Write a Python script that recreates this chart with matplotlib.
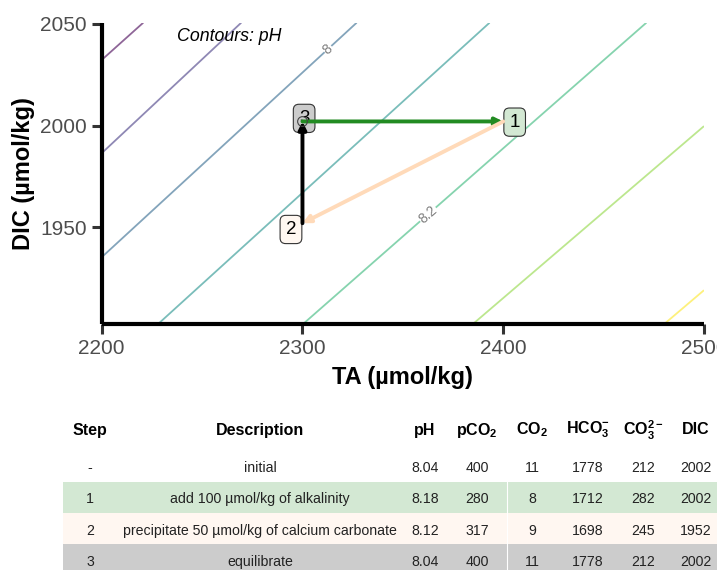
import numpy as np
import matplotlib
matplotlib.use("Agg")
import matplotlib.pyplot as plt
from matplotlib.patches import Rectangle
from matplotlib.lines import Line2D

plt.rcParams['font.family'] = ['Liberation Sans', 'DejaVu Sans']
plt.rcParams['mathtext.default'] = 'regular'

# pH contours: two (TA, DIC) points per level
ph_levels = [7.8, 7.9, 8.0, 8.1, 8.2, 8.3, 8.4]
contour_ta0 = [2200.0, 2200.0, 2200.0, 2228.1, 2300.3, 2384.9, 2480.2]
contour_dic0 = [2032.2, 1986.4, 1935.3, 1902.5, 1902.5, 1902.5, 1902.5]
contour_ta1 = [2220.7, 2269.5, 2327.0, 2393.2, 2471.3, 2500.0, 2500.0]
contour_dic1 = [2050.5, 2050.5, 2050.5, 2050.5, 2050.5, 1999.7, 1919.1]
contour_label_levels = [8.0, 8.2]
contour_label_text = ["8", "8.2"]
contour_label_ta = [2312.7, 2362.5]

# steps
steps = ["-", "1", "2", "3"]
step_ta = [2300, 2400, 2300, 2300]
step_dic = [2002, 2002, 1952, 2002]
descriptions = ["initial", "add 100 \u00b5mol/kg of alkalinity",
                "precipitate 50 \u00b5mol/kg of calcium carbonate", "equilibrate"]
ph = ["8.04", "8.18", "8.12", "8.04"]
pco2 = [400, 280, 317, 400]
co2 = [11, 8, 9, 11]
hco3 = [1778, 1712, 1698, 1778]
co3 = [212, 282, 245, 212]
dic = [2002, 2002, 1952, 2002]

step_colors = [None, "forestgreen", "peachpuff", "black"]
fills = [None, "#d3e8d3", "#fff7f1", "#cccccc"]

W, H = 717, 570
fig = plt.figure(figsize=(W / 100, H / 100), dpi=100)
ax = fig.add_axes([101.7 / W, 1 - 324 / H, (704 - 101.7) / W, (324 - 22.7) / H])

cmap = matplotlib.colormaps['viridis']
for i, lev in enumerate(ph_levels):
    c = cmap(i / (len(ph_levels) - 1))
    ax.plot([contour_ta0[i], contour_ta1[i]], [contour_dic0[i], contour_dic1[i]],
            color=c, alpha=0.6, lw=1.3, zorder=1, solid_capstyle='butt')

for lev, txt, ta in zip(contour_label_levels, contour_label_text, contour_label_ta):
    i = ph_levels.index(lev)
    slope = (contour_dic1[i] - contour_dic0[i]) / (contour_ta1[i] - contour_ta0[i])
    d = contour_dic0[i] + slope * (ta - contour_ta0[i])
    ang = np.degrees(np.arctan(slope))
    ax.text(ta, d, txt, rotation=ang, transform_rotates_text=True, rotation_mode='anchor',
            ha='center', va='center', fontsize=10, color='#808080', zorder=2,
            bbox=dict(boxstyle='square,pad=0.05', fc='white', ec='none'))

ax.text(2237.4, 2043.6, "Contours: pH", style='italic', fontsize=12.8, va='center', ha='left')

# step labels
label_offsets = {1: (4.5, -0.5, 'left'), 2: (-4.5, -4.5, 'right'), 3: (1.2, 2.2, 'center')}
for k in [1, 2, 3]:
    dx, dy, ha = label_offsets[k]
    ax.annotate(steps[k], xy=(step_ta[k], step_dic[k]), xytext=(dx, dy), textcoords='offset points',
                ha=ha, va='center', fontsize=13.5, zorder=3,
                bbox=dict(boxstyle='round,pad=0.3,rounding_size=0.3', fc=fills[k], ec='#333333', lw=0.8))

# arrows between steps
for k in [1, 2, 3]:
    ax.annotate('', xy=(step_ta[k], step_dic[k]), xytext=(step_ta[k - 1], step_dic[k - 1]),
                arrowprops=dict(arrowstyle='-|>', color=step_colors[k], lw=2.8, mutation_scale=11,
                                shrinkA=0, shrinkB=0), zorder=4)

ax.plot(step_ta[0], step_dic[0], 'o', mfc='none', mec='#444444', ms=7, mew=0.8, zorder=5)

ax.set_xlim(2200, 2500)
ax.set_ylim(1902.5, 2050.5)
ax.set_xticks([2200, 2300, 2400, 2500])
ax.set_yticks([1950, 2000, 2050])
for s in ['top', 'right']:
    ax.spines[s].set_visible(False)
for s in ['left', 'bottom']:
    ax.spines[s].set_linewidth(3)
    ax.spines[s].set_capstyle('butt')
ax.tick_params(length=7.5, width=2.2, color='#333333', labelcolor='#4d4d4d', labelsize=15, pad=3)
ax.set_xlabel("TA (\u00b5mol/kg)", fontsize=17, fontweight='bold', labelpad=6)
ax.set_ylabel("DIC (\u00b5mol/kg)", fontsize=17, fontweight='bold', labelpad=4)

# table
col_x = [90, 260, 425, 477, 532, 588, 643, 696]
headers = ["Step", "Description", "pH", "pCO$_2$", "CO$_2$", "HCO$_3^{-}$", "CO$_3^{2-}$", "DIC"]
row_y = [468, 499, 531, 562]
row_top = [None, 482, 513, 544]
for j, htxt in enumerate(headers):
    fig.text(col_x[j] / W, 1 - 430 / H, htxt, ha='center', va='center', fontsize=11.5,
             fontweight='bold')
for r in range(4):
    if fills[r] is not None:
        fig.patches.append(Rectangle((62.7 / W, 1 - (row_top[r] + 31) / H), 1 - 62.7 / W, 31 / H,
                                     transform=fig.transFigure, fc=fills[r], ec='none', zorder=0))
    vals = [steps[r], descriptions[r], ph[r], pco2[r], co2[r], hco3[r], co3[r], dic[r]]
    for j, v in enumerate(vals):
        fig.text(col_x[j] / W, 1 - row_y[r] / H, str(v), ha='center', va='center', fontsize=10.2,
                 color='#222222')
fig.add_artist(Line2D([507 / W, 507 / W], [0, 1 - 482 / H], color='white', lw=0.8,
                      transform=fig.transFigure, zorder=1))

fig.savefig("out.png", dpi=100)
